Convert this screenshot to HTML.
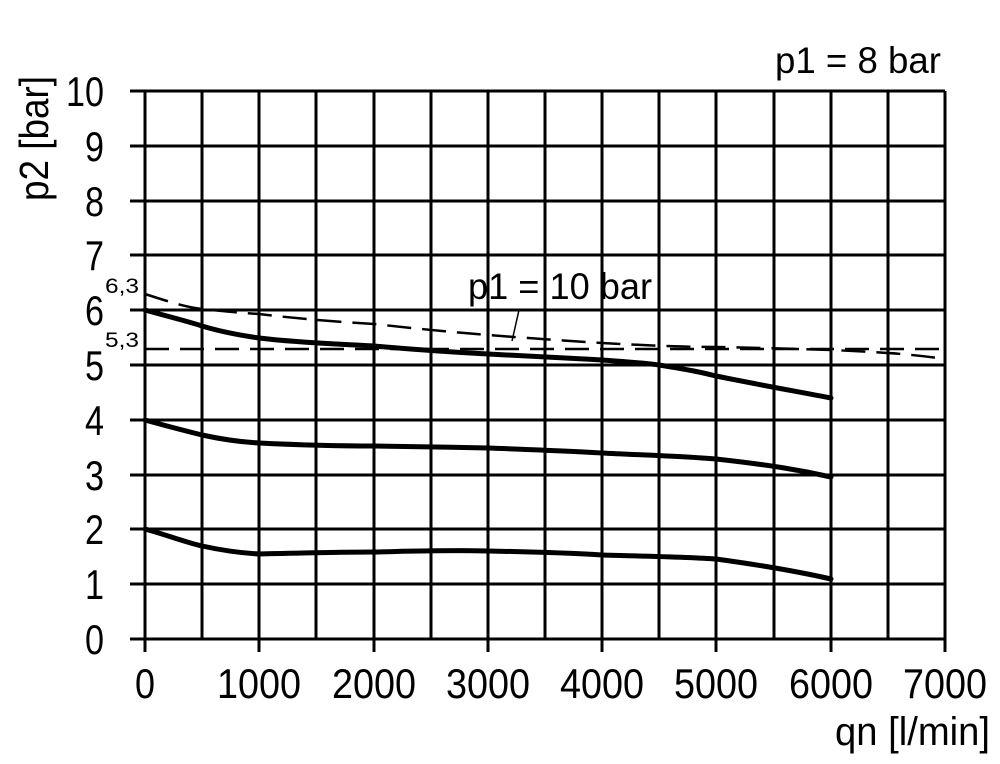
<!DOCTYPE html>
<html><head><meta charset="utf-8"><style>body{margin:0;background:#fff}svg{display:block}text{font-family:"Liberation Sans",sans-serif;fill:#000}</style></head>
<body>
<svg width="1000" height="764" viewBox="0 0 1000 764" xmlns="http://www.w3.org/2000/svg">
<g stroke="#000" stroke-width="3" fill="none">
<path d="M145,91V652M202,91V639M259,91V652M316,91V639M374,91V652M431,91V639M488,91V652M545,91V639M602,91V652M659,91V639M716,91V652M774,91V639M831,91V652M888,91V639M945,91V652"/>
<path d="M130,91H945M130,146H945M130,201H945M130,255H945M130,310H945M130,365H945M130,420H945M130,475H945M130,529H945M130,584H945M130,639H945"/>
</g>
<g stroke="#000" stroke-width="5" fill="none" stroke-linejoin="round" stroke-linecap="round">
<path d="M145,310 C170,317 190,322 202,326 C225,333 245,336 259,338 C300,343 340,344 374,346 C420,350 450,352 488,354 C540,357 570,358 602,360 C630,362 645,363 659,365 C690,370 700,372 716,376 C760,385 800,392 831,398"/>
<path d="M145,420 C170,427 190,432 202,435 C225,440 240,442 259,443 C300,445 340,446 374,446 C420,447 450,447 488,448 C540,450 570,451 602,453 C640,455 680,456 716,459 C770,465 800,470 831,477"/>
<path d="M145,529 C170,536 185,542 202,546 C225,551 240,553 259,554 C300,553 340,552 374,552 C420,551 450,550 488,551 C540,552 570,553 602,555 C640,556 690,557 716,559 C760,565 800,572 831,579"/>
</g>
<g stroke="#000" stroke-width="2.5" fill="none" stroke-dasharray="24,11">
<path d="M145,349H945"/>
<path d="M145,294 C170,302 185,307 202,309 C230,312 245,313 259,314 C300,319 340,322 374,324 C420,329 450,332 488,335 C540,339 570,341 602,343 C640,345 680,347 716,347 C770,348 800,349 831,350 C880,352 910,354 945,359"/>
</g>
<path d="M519,310 L512,341" stroke="#000" stroke-width="1.5"/>
<g font-size="42" text-anchor="end">
<text x="104" y="106" textLength="38" lengthAdjust="spacingAndGlyphs">10</text>
<text x="104" y="161" textLength="19" lengthAdjust="spacingAndGlyphs">9</text>
<text x="104" y="216" textLength="19" lengthAdjust="spacingAndGlyphs">8</text>
<text x="104" y="270" textLength="19" lengthAdjust="spacingAndGlyphs">7</text>
<text x="104" y="325" textLength="19" lengthAdjust="spacingAndGlyphs">6</text>
<text x="104" y="380" textLength="19" lengthAdjust="spacingAndGlyphs">5</text>
<text x="104" y="435" textLength="19" lengthAdjust="spacingAndGlyphs">4</text>
<text x="104" y="490" textLength="19" lengthAdjust="spacingAndGlyphs">3</text>
<text x="104" y="544" textLength="19" lengthAdjust="spacingAndGlyphs">2</text>
<text x="104" y="599" textLength="19" lengthAdjust="spacingAndGlyphs">1</text>
<text x="104" y="654" textLength="19" lengthAdjust="spacingAndGlyphs">0</text>
</g>
<text x="139" y="293" font-size="21" text-anchor="end" textLength="34" lengthAdjust="spacingAndGlyphs">6,3</text>
<text x="139" y="347" font-size="21" text-anchor="end" textLength="34" lengthAdjust="spacingAndGlyphs">5,3</text>
<g font-size="42" text-anchor="middle">
<text x="145" y="698" textLength="20" lengthAdjust="spacingAndGlyphs">0</text>
<text x="259" y="698" textLength="84" lengthAdjust="spacingAndGlyphs">1000</text>
<text x="374" y="698" textLength="84" lengthAdjust="spacingAndGlyphs">2000</text>
<text x="488" y="698" textLength="84" lengthAdjust="spacingAndGlyphs">3000</text>
<text x="602" y="698" textLength="84" lengthAdjust="spacingAndGlyphs">4000</text>
<text x="716" y="698" textLength="84" lengthAdjust="spacingAndGlyphs">5000</text>
<text x="831" y="698" textLength="84" lengthAdjust="spacingAndGlyphs">6000</text>
<text x="945" y="698" textLength="84" lengthAdjust="spacingAndGlyphs">7000</text>
</g>
<text x="835" y="745" font-size="40" textLength="155" lengthAdjust="spacingAndGlyphs">qn [l/min]</text>
<text x="775" y="73" font-size="37" textLength="166" lengthAdjust="spacingAndGlyphs">p1 = 8 bar</text>
<text x="468" y="299" font-size="37" textLength="184" lengthAdjust="spacingAndGlyphs">p1 = 10 bar</text>
<text transform="translate(48,201) rotate(-90)" font-size="41" textLength="125" lengthAdjust="spacingAndGlyphs">p2 [bar]</text>
</svg>
</body></html>
